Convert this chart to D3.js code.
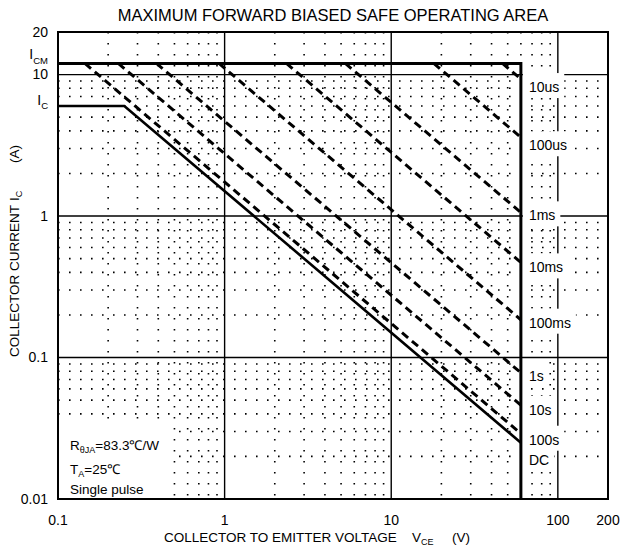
<!DOCTYPE html>
<html>
<head>
<meta charset="utf-8">
<script src="https://cdn.jsdelivr.net/npm/d3@7"></script>
<style>
  body { margin: 0; background: #fff; }
  svg { display: block; font-family: "Liberation Sans", Arial, sans-serif; }
</style>
</head>
<body>
<div id="chart"></div>
<script>
// device limits
const vceo = 60;      // V
const icm = 12;       // A, pulsed
const icDc = 6;       // A
const pdDc = 1.5;     // W

// pulse curves: current reached at VCEO
const pulseLabels = ["10us", "100us", "1ms", "10ms", "100ms", "1s", "10s", "100s"];
const pulseEndCurrent = [9.3, 3.6, 1.06, 0.47, 0.185, 0.078, 0.046, 0.029];

// curve labels, right of the VCEO line (current where each label sits)
const curveLabels = ["10us", "100us", "1ms", "10ms", "100ms", "1s", "10s", "100s", "DC"];
const curveLabelAt = [8.15, 3.16, 1.01, 0.433, 0.176, 0.0743, 0.0427, 0.0262, 0.0189];

const xTickValues = [0.1, 1, 10, 100, 200];
const xTickLabels = ["0.1", "1", "10", "100", "200"];
const yTickValues = [20, 10, 1, 0.1, 0.01];
const yTickLabels = ["20", "10", "1", "0.1", "0.01"];
const xMajor = [1, 10, 100];
const yMajor = [0.1, 1, 10];

const width = 620, height = 551;
const margin = { top: 32, right: 12, bottom: 52, left: 58 };

const svg = d3.select("#chart").append("svg")
    .attr("width", width)
    .attr("height", height)
    .attr("viewBox", `0 0 ${width} ${height}`);

const x = d3.scaleLog().domain([0.1, 200]).range([margin.left, width - margin.right]);
const y = d3.scaleLog().domain([0.01, 20]).range([height - margin.bottom, margin.top]);

const x0 = x.range()[0], x1 = x.range()[1];
const y0 = y.range()[0], y1 = y.range()[1];

// minor dotted grid
const isMajor = (v, list) => list.some(m => Math.abs(v / m - 1) < 1e-6);
const xMinor = x.ticks().filter(v => !isMajor(v, xMajor) && v > 0.1 && v < 200);
const yMinor = y.ticks().filter(v => !isMajor(v, yMajor) && v > 0.01 && v < 20);

const grid = svg.append("g")
    .attr("stroke", "#000")
    .attr("stroke-width", 1.6)
    .attr("stroke-dasharray", "1.6,9.4");

grid.selectAll("line.vx").data(xMinor).enter().append("line")
    .attr("x1", d => x(d)).attr("x2", d => x(d))
    .attr("y1", y1).attr("y2", y0);

grid.selectAll("line.hy").data(yMinor).enter().append("line")
    .attr("x1", x0).attr("x2", x1)
    .attr("y1", d => y(d)).attr("y2", d => y(d));

// major solid grid
const major = svg.append("g").attr("stroke", "#000").attr("stroke-width", 1.4);
major.selectAll("line.mx").data(xMajor).enter().append("line")
    .attr("x1", d => x(d)).attr("x2", d => x(d))
    .attr("y1", y1).attr("y2", y0);
major.selectAll("line.my").data(yMajor).enter().append("line")
    .attr("x1", x0).attr("x2", x1)
    .attr("y1", d => y(d)).attr("y2", d => y(d));

// white note box bottom left
svg.append("rect")
    .attr("x", x0 + 1).attr("y", y(0.034))
    .attr("width", x(0.47) - x0).attr("height", y0 - y(0.034) - 1)
    .attr("fill", "#fff");

// curve labels with white backing
const labelG = svg.append("g").attr("font-size", 14);
curveLabels.forEach((t, i) => {
    const g = labelG.append("g");
    const txt = g.append("text")
        .attr("x", x(vceo) + 8)
        .attr("y", y(curveLabelAt[i]))
        .attr("dy", "0.35em")
        .text(t);
    const bb = txt.node().getBBox();
    g.insert("rect", "text")
        .attr("x", x(vceo) + 2)
        .attr("y", bb.y - 6)
        .attr("width", bb.x + bb.width + 5 - (x(vceo) + 2))
        .attr("height", bb.height + 9)
        .attr("fill", "#fff");
});

// pulse curves (dashed), constant power from ICM to VCEO
const line = d3.line().x(d => x(d[0])).y(d => y(d[1]));
svg.append("g").selectAll("path.pulse")
    .data(pulseEndCurrent)
    .enter().append("path")
    .attr("fill", "none")
    .attr("stroke", "#000")
    .attr("stroke-width", 3)
    .attr("stroke-dasharray", "8,5")
    .attr("d", d => line([[vceo * d / icm, icm], [vceo, d]]));

// ICM and VCEO limits
svg.append("path")
    .attr("fill", "none").attr("stroke", "#000").attr("stroke-width", 3)
    .attr("d", line([[0.1, icm], [vceo, icm], [vceo, 0.01]]));

// DC curve
svg.append("path")
    .attr("fill", "none").attr("stroke", "#000").attr("stroke-width", 2.6)
    .attr("d", line([[0.1, icDc], [pdDc / icDc, icDc], [vceo, pdDc / vceo]]));

// frame
svg.append("rect")
    .attr("x", x0).attr("y", y1)
    .attr("width", x1 - x0).attr("height", y0 - y1)
    .attr("fill", "none").attr("stroke", "#000").attr("stroke-width", 2);

// tick labels
svg.append("g").attr("font-size", 14).attr("text-anchor", "middle")
    .selectAll("text").data(xTickValues).enter().append("text")
    .attr("x", d => x(d)).attr("y", y0 + 26)
    .text((d, i) => xTickLabels[i]);

svg.append("g").attr("font-size", 14).attr("text-anchor", "end")
    .selectAll("text").data(yTickValues).enter().append("text")
    .attr("x", x0 - 10).attr("y", d => y(d)).attr("dy", "0.35em")
    .text((d, i) => yTickLabels[i]);

// I_CM and I_C markers on the y axis
function subText(g, xp, yp, main, sub, size, anchor) {
    const t = g.append("text").attr("x", xp).attr("y", yp)
        .attr("font-size", size).attr("text-anchor", anchor || "start");
    t.append("tspan").text(main);
    t.append("tspan").attr("font-size", size * 0.68).attr("dy", size * 0.3).text(sub);
    return t;
}
subText(svg, x0 - 10, y(icm) - 4, "I", "CM", 14, "end");
subText(svg, x0 - 10, y(icDc) - 1, "I", "C", 14, "end");

// notes
const note = svg.append("g").attr("font-size", 13.5);
{
    const t = note.append("text").attr("x", x0 + 12).attr("y", 450);
    t.append("tspan").text("R");
    t.append("tspan").attr("font-size", 9).attr("dy", 3).text("θJA");
    t.append("tspan").attr("dy", -3).text("=83.3℃/W");
    const t2 = note.append("text").attr("x", x0 + 12).attr("y", 474);
    t2.append("tspan").text("T");
    t2.append("tspan").attr("font-size", 9).attr("dy", 3).text("A");
    t2.append("tspan").attr("dy", -3).text("=25℃");
    note.append("text").attr("x", x0 + 12).attr("y", 494).text("Single pulse");
}

// title
svg.append("text")
    .attr("x", (x0 + x1) / 2).attr("y", 21)
    .attr("text-anchor", "middle").attr("font-size", 16.5)
    .text("MAXIMUM FORWARD BIASED SAFE OPERATING AREA");

// x axis title
{
    const t = svg.append("text").attr("y", 542).attr("font-size", 13.5);
    t.append("tspan").attr("x", 164).text("COLLECTOR TO EMITTER VOLTAGE");
    t.append("tspan").attr("x", 412).text("V");
    t.append("tspan").attr("font-size", 9).attr("dy", 3).text("CE");
    t.append("tspan").attr("x", 452).attr("dy", -3).text("(V)");
}

// y axis title
{
    const t = svg.append("text")
        .attr("transform", "translate(19,357) rotate(-90)")
        .attr("font-size", 13.5);
    t.append("tspan").attr("x", 0).text("COLLECTOR CURRENT");
    t.append("tspan").attr("x", 156).text("I");
    t.append("tspan").attr("font-size", 9).attr("dy", 3).text("C");
    t.append("tspan").attr("x", 194).attr("dy", -3).text("(A)");
}
</script>
</body>
</html>
